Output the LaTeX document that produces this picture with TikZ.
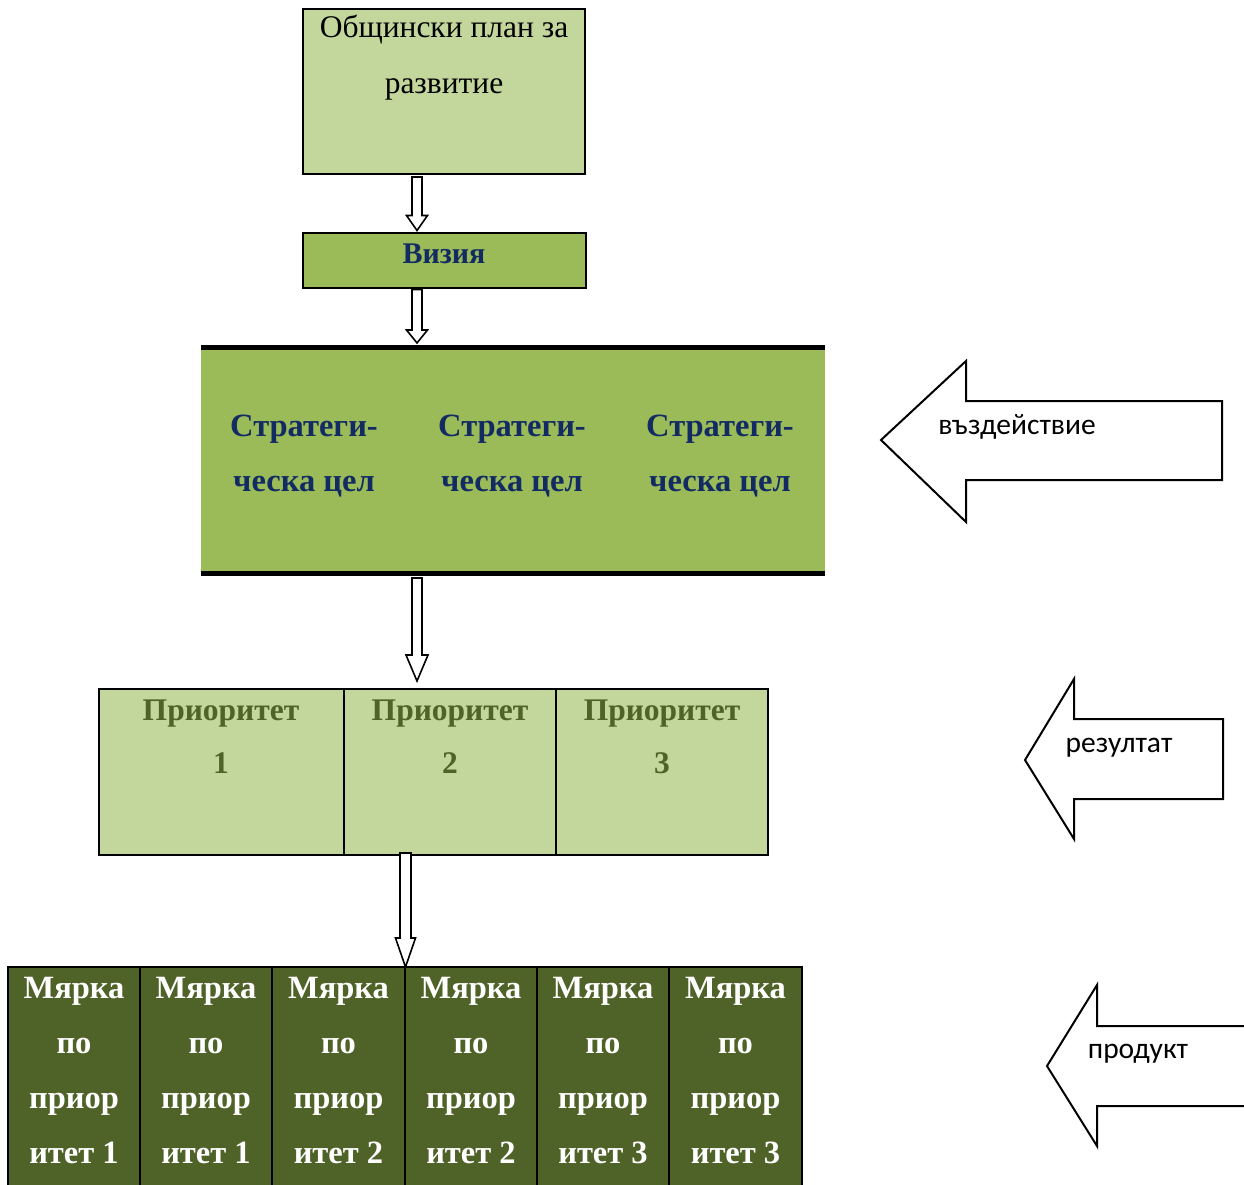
\documentclass[tikz,border=0pt]{standalone}
\usepackage{fontspec}
\setmainfont{Liberation Serif}
\newfontfamily\calib{Carlito}
\usetikzlibrary{calc}
\definecolor{lightg}{HTML}{C3D69B}
\definecolor{midg}{HTML}{9BBB59}
\definecolor{darkg}{HTML}{4F6228}
\definecolor{navyc}{HTML}{122B63}
\newcommand\blkarrow[5]{%
  \draw[blockarr] ($(#1)+(-#3,0)$) -- ($(#2)+(-#3,-#5)$) -- ($(#2)+(-#4,-#5)$) -- (#2)
    -- ($(#2)+(#4,-#5)$) -- ($(#2)+(#3,-#5)$) -- ($(#1)+(#3,0)$) -- cycle;}
\begin{document}
\begin{tikzpicture}[x=1pt,y=-1pt,
  box/.style={draw=black, line width=2pt, inner sep=0pt, outer sep=0pt, anchor=center},
  blockarr/.style={draw=black, fill=white, line width=1.6pt, line join=miter},
  sidearr/.style={draw=black, fill=white, line width=2pt, line join=miter},
  plantxt/.style={font=\fontsize{31.5}{56}\selectfont, align=center, inner sep=0pt},
  vistxt/.style={font=\bfseries\fontsize{30}{30}\selectfont, text=navyc, inner sep=0pt},
  strattxt/.style={font=\bfseries\fontsize{32.5}{55}\selectfont, text=navyc, align=center, inner sep=0pt},
  priotxt/.style={font=\bfseries\fontsize{31.5}{53}\selectfont, text=darkg, align=center, inner sep=0pt},
  meastxt/.style={font=\bfseries\fontsize{32.5}{55}\selectfont, text=white, align=center, inner sep=0pt},
  sidetxt/.style={font=\calib\fontsize{29.5}{30}\selectfont, inner sep=0pt},
  ]
\useasboundingbox (0,0) rectangle (1244,1185);
\clip (0,0) rectangle (1244,1185);

% top box
\node[box, fill=lightg, minimum width=282pt, minimum height=165pt] (plan) at (444,91.5) {};
\node[plantxt] (plantext) at (444,57.5) {Общински план за\\развитие};

% vision
\node[box, fill=midg, minimum width=283pt, minimum height=55pt] (vis) at (444,260) {};
\node[vistxt] (vistext) at (444,253.5) {Визия};

% strategic goals
\node[inner sep=0pt, outer sep=0pt, fill=midg, minimum width=624pt, minimum height=231pt] (strat) at (513,460.5) {};
\draw[line width=5pt] ($(strat.north west)+(0,2.5)$) -- ($(strat.north east)+(0,2.5)$);
\draw[line width=5pt] ($(strat.south west)+(0,-2.5)$) -- ($(strat.south east)+(0,-2.5)$);
\node[strattxt] (s1) at (304,456.5) {Стратеги-\\ческа цел};
\node[strattxt] (s2) at (512,456.5) {Стратеги-\\ческа цел};
\node[strattxt] (s3) at (720,456.5) {Стратеги-\\ческа цел};

% priorities
\node[box, fill=lightg, minimum width=245pt, minimum height=166pt] (p1) at (221.5,772) {};
\node[box, fill=lightg, minimum width=212pt, minimum height=166pt] (p2) at (450,772) {};
\node[box, fill=lightg, minimum width=212pt, minimum height=166pt] (p3) at (662,772) {};
\node[priotxt] (pt1) at (221,736.5) {Приоритет\\1};
\node[priotxt] (pt2) at (450,736.5) {Приоритет\\2};
\node[priotxt] (pt3) at (662,736.5) {Приоритет\\3};

% measures
\foreach \i/\cx/\w/\n in {1/74/132/1, 2/206/132/1, 3/338.5/133/2, 4/471/132/2, 5/603/132/3, 6/735.5/133/3} {
  \node[box, fill=darkg, minimum width=\w pt, minimum height=233pt] (m\i) at (\cx,1083.5) {};
  \node[meastxt] (mt\i) at (\cx,1070.5) {Мярка\\по\\приор\\итет \n};
}

% down block arrows
\coordinate (ax) at (417,0);
\coordinate (bx) at (405.5,0);
\coordinate (a1s) at ($(plan.south -| ax)+(0,3)$);
\coordinate (a1e) at ($(vis.north -| ax)+(0,-2)$);
\coordinate (a2s) at ($(vis.south -| ax)+(0,2)$);
\coordinate (a2e) at ($(strat.north -| ax)+(0,-2)$);
\coordinate (a3s) at ($(strat.south -| ax)+(0,2)$);
\coordinate (a3e) at ($(p2.north -| ax)+(0,-8)$);
\coordinate (a4s) at ($(p2.south -| bx)+(0,-2)$);
\coordinate (a4e) at ($(m4.north -| bx)+(0,0)$);
\blkarrow{a1s}{a1e}{5}{10.5}{15}
\blkarrow{a2s}{a2e}{5}{10.5}{13}
\blkarrow{a3s}{a3e}{5}{11}{26}
\blkarrow{a4s}{a4e}{5.5}{10}{29}

% side arrows
\draw[sidearr] (881,440) -- (966,361) -- (966,401) -- (1222,401) -- (1222,480) -- (966,480) -- (966,522) -- cycle;
\node[sidetxt] (impact) at (1017,427) {въздействие};
\draw[sidearr] (1025,760) -- (1074,679) -- (1074,719) -- (1223,719) -- (1223,799) -- (1074,799) -- (1074,839) -- cycle;
\node[sidetxt] (result) at (1119,748) {резултат};
\draw[sidearr] (1047,1066) -- (1097,985) -- (1097,1026) -- (1262,1026) -- (1262,1106) -- (1097,1106) -- (1097,1146) -- cycle;
\node[sidetxt] (product) at (1138,1054) {продукт};
\end{tikzpicture}
\end{document}
